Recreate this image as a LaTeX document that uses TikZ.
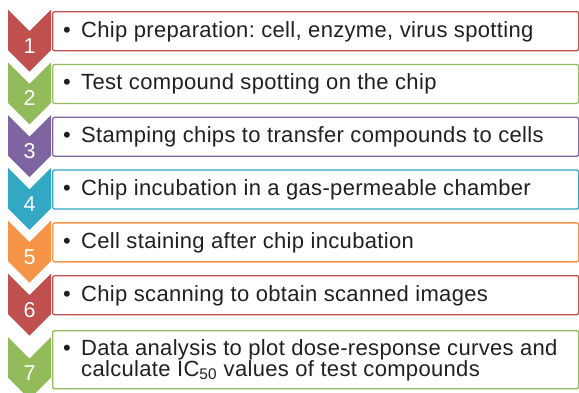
\documentclass[tikz,border=0pt]{standalone}
\usepackage{fontspec}
\setmainfont{Liberation Sans}[LetterSpace=1.5]
\frenchspacing
\definecolor{redc}{HTML}{C0504D}
\definecolor{greenc}{HTML}{92BB5B}
\definecolor{purplec}{HTML}{7F64A2}
\definecolor{tealc}{HTML}{33A8C5}
\definecolor{orangec}{HTML}{F69448}
\definecolor{txt}{HTML}{231F20}
\tikzset{
  stepbox/.style={draw=#1, line width=1.3pt, rounded corners=2pt, fill=white,
    minimum width=526pt, minimum height=39pt, anchor=north west, inner sep=0pt},
  num/.style={text=white, anchor=base, inner sep=0pt, font=\fontsize{21.5}{24}\selectfont},
  item/.style={text=txt, anchor=base west, inner sep=0pt, align=left,
    font=\fontsize{22}{21}\selectfont},
  dot/.style={text=txt, anchor=base west, inner sep=0pt, font=\fontsize{22}{21}\selectfont}
}
\begin{document}
\begin{tikzpicture}[x=1pt, y=-1pt]
\useasboundingbox (0,0) rectangle (579,392);
% chevrons
\fill[redc]    (8,9.5)   -- (29.5,31)    -- (51,9.5)   -- (51,50)    -- (29.5,71.5)  -- (8,50)    -- cycle;
\fill[greenc]  (8,62.3)  -- (29.5,83.8)  -- (51,62.3)  -- (51,102.8) -- (29.5,124.3) -- (8,102.8) -- cycle;
\fill[purplec] (8,115.1) -- (29.5,136.6) -- (51,115.1) -- (51,155.6) -- (29.5,177.1) -- (8,155.6) -- cycle;
\fill[tealc]   (8,167.9) -- (29.5,189.4) -- (51,167.9) -- (51,208.4) -- (29.5,229.9) -- (8,208.4) -- cycle;
\fill[orangec] (8,220.7) -- (29.5,242.2) -- (51,220.7) -- (51,261.2) -- (29.5,282.7) -- (8,261.2) -- cycle;
\fill[redc]    (8,273.5) -- (29.5,295)   -- (51,273.5) -- (51,314)   -- (29.5,335.5) -- (8,314)   -- cycle;
\fill[greenc]  (8,337)   -- (29.5,358.5) -- (51,337)   -- (51,377.5) -- (29.5,399)   -- (8,377.5) -- cycle;
\node[num] (N1) at (29.5,53)    {1};
\node[num] (N2) at (29.5,105.8) {2};
\node[num] (N3) at (29.5,158.6) {3};
\node[num] (N4) at (29.5,211.4) {4};
\node[num] (N5) at (29.5,264.2) {5};
\node[num] (N6) at (29.5,317)   {6};
\node[num] (N7) at (29.5,380.5) {7};
% boxes
\node[stepbox=redc]    (B1) at (52,11)    {};
\node[stepbox=greenc]  (B2) at (52,63.8)  {};
\node[stepbox=purplec] (B3) at (52,116.6) {};
\node[stepbox=tealc]   (B4) at (52,169.4) {};
\node[stepbox=orangec] (B5) at (52,222.2) {};
\node[stepbox=redc]    (B6) at (52,275)   {};
\node[stepbox=greenc, minimum height=58pt] (B7) at (52,330) {};
% bullets and texts
\node[dot] (D1) at (63,37)    {•};
\node[dot] (D2) at (63,89.8)  {•};
\node[dot] (D3) at (63,142.6) {•};
\node[dot] (D4) at (63,195.4) {•};
\node[dot] (D5) at (63,248.2) {•};
\node[dot] (D6) at (63,301)   {•};
\node[dot] (D7) at (63,355)   {•};
\node[item] (T1) at (81,37)    {Chip preparation: cell, enzyme, virus spotting};
\node[item] (T2) at (81,89.8)  {Test compound spotting on the chip};
\node[item] (T3) at (81,142.6) {Stamping chips to transfer compounds to cells};
\node[item] (T4) at (81,195.4) {Chip incubation in a gas-permeable chamber};
\node[item] (T5) at (81,248.2) {Cell staining after chip incubation};
\node[item] (T6) at (81,301)   {Chip scanning to obtain scanned images};
\node[item] (T7) at (81,376)   {Data analysis to plot dose-response curves and\\calculate IC\textsubscript{50} values of test compounds};
\end{tikzpicture}
\end{document}
